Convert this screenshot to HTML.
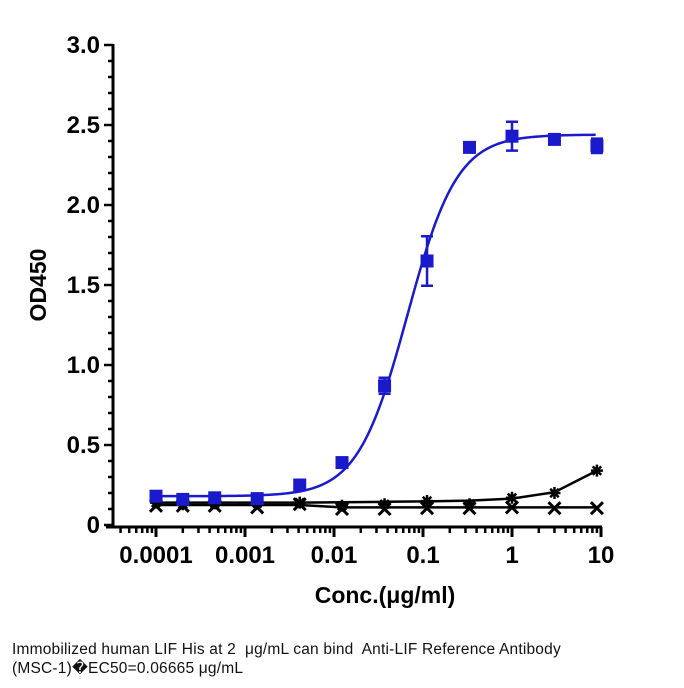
<!DOCTYPE html>
<html><head><meta charset="utf-8"><style>
body{margin:0;background:#fff;width:684px;height:688px;overflow:hidden;font-family:"Liberation Sans",Arial,sans-serif}
.cap{position:absolute;left:12px;top:640px;font-family:"Liberation Sans","DejaVu Sans",sans-serif;font-size:15.5px;line-height:19px;color:#111;letter-spacing:0.2px}
</style></head><body>
<svg id="chart" width="684" height="688" style="position:absolute;left:0;top:0">
<g id="axes"></g><g id="series"></g>
<text x="385" y="603" text-anchor="middle" font-size="23" font-weight="bold" font-family="Liberation Sans, sans-serif">Conc.(μg/ml)</text>
<text transform="translate(46,285) rotate(-90)" text-anchor="middle" font-size="23" font-weight="bold" font-family="Liberation Sans, sans-serif">OD450</text>
</svg>
<div class="cap">Immobilized human LIF His at 2&nbsp; μg/mL can bind&nbsp; Anti-LIF Reference Antibody<br>(MSC-1)&#xFFFD;EC50=0.06665 μg/mL</div>
<script>
const xTicks=[0.0001,0.001,0.01,0.1,1,10];
const xTickLabels=["0.0001","0.001","0.01","0.1","1","10"];
const yTicks=[0,0.5,1,1.5,2,2.5,3];
const yTickLabels=["0","0.5","1.0","1.5","2.0","2.5","3.0"];
const conc=[0.0001,0.0002,0.000457,0.00137,0.00412,0.0123,0.037,0.111,0.333,1,3,9];
const blue=[0.18,0.16,0.17,0.165,0.25,0.39,0.87,1.65,2.36,2.43,2.41,2.37];
const blueErr=[0.01,0.01,0.01,0.01,0.01,0.02,0.05,0.155,0.02,0.09,0.02,0.045];
const blueFit={bottom:0.18,top:2.44,ec50:0.06665,hill:1.55};
const star=[0.14,0.13,0.135,0.135,0.14,0.12,0.13,0.15,0.13,0.17,0.2,0.34];
const cross=[0.12,0.12,0.12,0.11,0.13,0.1,0.1,0.105,0.105,0.11,0.105,0.105];
const starFit=[0.14,0.14,0.14,0.14,0.14,0.142,0.145,0.148,0.152,0.165,0.205,0.34];
const crossFit=[0.125,0.125,0.125,0.125,0.125,0.11,0.11,0.11,0.11,0.11,0.11,0.11];
const NS="http://www.w3.org/2000/svg";
const X=v=>156+(Math.log10(v)+4)*89;
const Y=v=>525-v*160;
function mk(t,a,p){const e=document.createElementNS(NS,t);for(const k in a)e.setAttribute(k,a[k]);p.appendChild(e);return e;}
const ax=document.getElementById('axes'),se=document.getElementById('series');
let e=mk('line',{x1:113,y1:Y(3)-1,x2:113,y2:528,stroke:'#000','stroke-width':3},ax);

e=mk('line',{x1:106,y1:527,x2:X(10)+1,y2:527,stroke:'#000','stroke-width':3},ax);

for(let i=0;i<=30;i++){const v=i/10;const maj=i%5==0;mk('line',{x1:maj?104:108,x2:113,y1:Y(v),y2:Y(v),stroke:'#000','stroke-width':2.5},ax);}
yTicks.forEach((v,i)=>{e=mk('text',{x:100,y:Y(v)+8,'text-anchor':'end','font-size':24,'font-weight':'bold'},ax);e.textContent=yTickLabels[i];
});
for(let d=-5;d<1;d++)for(let m=1;m<10;m++){const v=m*Math.pow(10,d);const px=X(v);if(px<115||px>X(10)+1)continue;
mk('line',{x1:px,x2:px,y1:527,y2:m==1?537:533,stroke:'#000','stroke-width':m==1?3:2.5},ax);}
mk('line',{x1:X(10),x2:X(10),y1:527,y2:537,stroke:'#000','stroke-width':3},ax);
xTicks.forEach((v,i)=>{e=mk('text',{x:X(v),y:563,'text-anchor':'middle','font-size':24,'font-weight':'bold'},ax);e.textContent=xTickLabels[i];
});
function pl(xs,ys,col,name){e=mk('polyline',{points:xs.map((x,i)=>X(x)+','+Y(ys[i])).join(' '),fill:'none',stroke:col,'stroke-width':2.5},se);
}
pl(conc,crossFit,'#000','cross-fit-line');
pl(conc,starFit,'#000','star-fit-line');
const fx=[],fy=[];for(let l=-4;l<=Math.log10(9)+1e-9;l+=0.02){const c=Math.pow(10,l);fx.push(c);fy.push(blueFit.bottom+(blueFit.top-blueFit.bottom)/(1+Math.pow(blueFit.ec50/c,blueFit.hill)));}
pl(fx,fy,'#1a1acc','blue-fit-curve');
conc.forEach((c,i)=>{const x=X(c),y=Y(cross[i]);
e=mk('path',{d:`M${x-6},${y-6}L${x+6},${y+6}M${x+6},${y-6}L${x-6},${y+6}`,stroke:'#000','stroke-width':3},se);
});
conc.forEach((c,i)=>{const x=X(c),y=Y(star[i]);let d='';for(let k=0;k<4;k++){const a=k*Math.PI/4;d+=`M${x-6*Math.cos(a)},${y-6*Math.sin(a)}L${x+6*Math.cos(a)},${y+6*Math.sin(a)}`;}
e=mk('path',{d:d,stroke:'#000','stroke-width':2.5},se);
});
conc.forEach((c,i)=>{const x=X(c),y=Y(blue[i]);
if(blueErr[i]>0.03){const y1=Y(blue[i]+blueErr[i]),y2=Y(blue[i]-blueErr[i]);
e=mk('path',{d:`M${x},${y1}L${x},${y2}M${x-6},${y1}L${x+6},${y1}M${x-6},${y2}L${x+6},${y2}`,stroke:'#1a1acc','stroke-width':2.5,fill:'none'},se);
}
e=mk('rect',{x:x-6.5,y:y-6.5,width:13,height:13,fill:'#1a1acc'},se);
});
</script>
</body></html>
